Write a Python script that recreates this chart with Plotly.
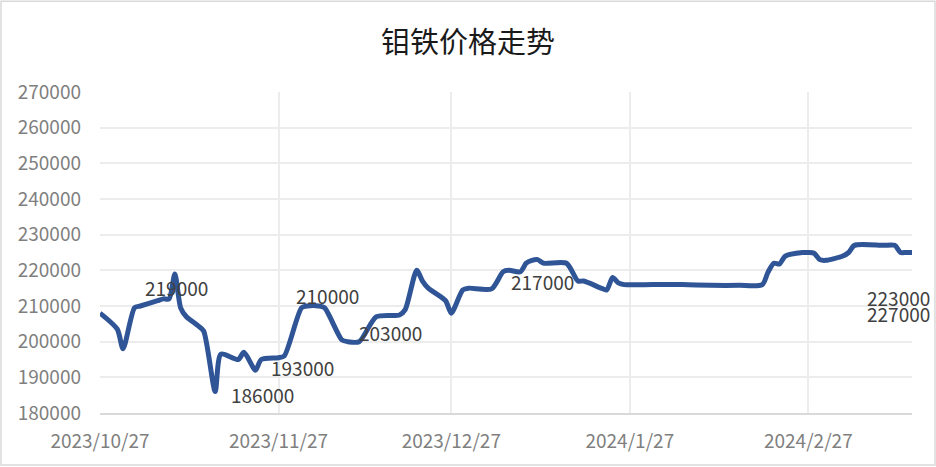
import plotly.graph_objects as go

# 钼铁价格 (元/吨), 按日期
dates = [
    "2023-10-27", "2023-10-30", "2023-10-31", "2023-11-02", "2023-11-03",
    "2023-11-06", "2023-11-07", "2023-11-08", "2023-11-09", "2023-11-10",
    "2023-11-11", "2023-11-13", "2023-11-14", "2023-11-16", "2023-11-17",
    "2023-11-20", "2023-11-21", "2023-11-23", "2023-11-24", "2023-11-27",
    "2023-11-28", "2023-12-01", "2023-12-02", "2023-12-04", "2023-12-05",
    "2023-12-08", "2023-12-09", "2023-12-11", "2023-12-14", "2023-12-18",
    "2023-12-19", "2023-12-21", "2023-12-22", "2023-12-23", "2023-12-26",
    "2023-12-27", "2023-12-29", "2023-12-30", "2024-01-03", "2024-01-05",
    "2024-01-06", "2024-01-08", "2024-01-09", "2024-01-10", "2024-01-11",
    "2024-01-12", "2024-01-16", "2024-01-18", "2024-01-19", "2024-01-22",
    "2024-01-23", "2024-01-24", "2024-01-25", "2024-01-26", "2024-01-31",
    "2024-02-05", "2024-02-10", "2024-02-15", "2024-02-19", "2024-02-20",
    "2024-02-21", "2024-02-22", "2024-02-23", "2024-02-26", "2024-02-27",
    "2024-02-28", "2024-02-29", "2024-03-01", "2024-03-04", "2024-03-05",
    "2024-03-06", "2024-03-11", "2024-03-13", "2024-03-14", "2024-03-15",
    "2024-03-16",
]
prices = [
    208000, 203500, 198000, 209500, 210000,
    211500, 212000, 212000, 219000, 209500,
    207000, 204500, 203000, 186000, 196500,
    195000, 197000, 192000, 195000, 195500,
    196000, 209500, 210000, 210000, 209500,
    200500, 200000, 200000, 207000, 207500,
    209000, 220000, 217000, 215000, 211500,
    208000, 214500, 215000, 214800, 219600,
    220000, 219600, 222000, 222800, 223000,
    222000, 222000, 217000, 217000, 215000,
    214500, 218000, 216500, 216000, 216000,
    216000, 215800, 215800, 216000, 219500,
    222000, 221800, 224000, 225000, 225000,
    224800, 223000, 222800, 224000, 225000,
    227000, 227000, 227000, 225000, 225000,
    225000,
]

# 数据标签 (挂在对应日期的点上)
label_dates = ["2023-11-09", "2023-11-16", "2023-11-23", "2023-12-04",
               "2023-12-11", "2024-01-18", "2024-03-16", "2024-03-16"]
label_texts = ["219000", "186000", "193000", "210000",
               "203000", "217000", "223000", "227000"]
label_shifts = [(2, -14), (47, -3), (47, 3), (9, 11),
                (31, 9), (-35, 0), (-14, -45), (-14, -61)]

fig = go.Figure()
fig.add_trace(go.Scatter(
    x=dates, y=prices,
    mode="lines",
    line=dict(color="#2F5597", width=5, shape="spline", smoothing=0.7),
    hoverinfo="x+y",
    showlegend=False,
))

for d, txt, (dx, dy) in zip(label_dates, label_texts, label_shifts):
    fig.add_annotation(
        x=d, y=prices[dates.index(d)], text=txt,
        showarrow=False, xshift=dx, yshift=dy,
        font=dict(size=19, color="#404040"),
    )

# 图表外框
fig.add_shape(
    type="rect", xref="paper", yref="paper",
    x0=-0.1219, x1=1.0283, y0=-0.162, y1=1.283,
    line=dict(color="#d9d9d9", width=1.5),
)

fig.update_layout(
    width=936, height=467,
    margin=dict(l=100, r=24, t=92, b=54),
    paper_bgcolor="white",
    plot_bgcolor="white",
    font=dict(family="Noto Sans CJK SC, Open Sans, sans-serif"),
    title=dict(
        text="钼铁价格走势", x=0.5, xref="container", xanchor="center",
        y=0.908, yanchor="middle",
        font=dict(size=29, color="#1a1a1a"),
    ),
    xaxis=dict(
        type="date",
        range=["2023-10-27", "2024-03-16"],
        tick0="2023-10-27", dtick="M1",
        tickformat="%Y/%-m/%d",
        showgrid=True, gridcolor="#ececec", gridwidth=2,
        showline=True, linecolor="#d9d9d9", linewidth=2,
        ticks="", ticklabelstandoff=10,
        tickfont=dict(size=19, color="#7f7f7f"),
        zeroline=False,
    ),
    yaxis=dict(
        range=[180000, 270000], dtick=10000, tickformat="d",
        showgrid=True, gridcolor="#ececec", gridwidth=2,
        ticks="", ticklabelstandoff=18,
        tickfont=dict(size=19, color="#7f7f7f"),
        zeroline=False,
    ),
)

# 去掉页面默认边距, 让图从 (0,0) 开始
fig.write_html(
    "out.html",
    config={"displayModeBar": False},
    post_script="document.body.style.margin='0';",
)
